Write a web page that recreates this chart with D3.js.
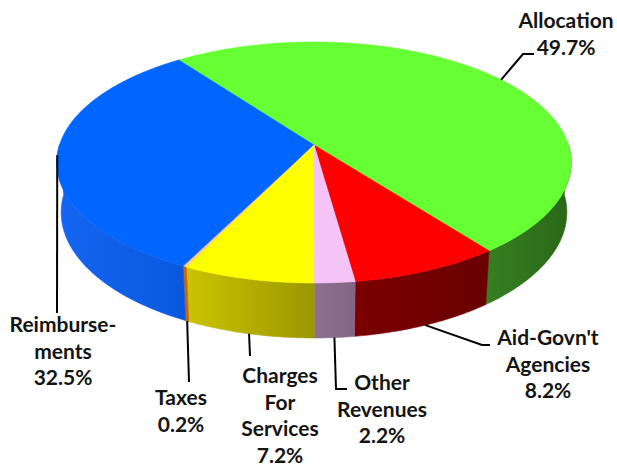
<!DOCTYPE html>
<html>
<head>
<meta charset="utf-8">
<script src="https://cdn.jsdelivr.net/npm/d3@7"></script>
<style>
  html, body { margin: 0; padding: 0; background: #ffffff; }
  svg { display: block; }
  text { font-family: Lato, "Open Sans", sans-serif; font-size: 21px; font-weight: bold; fill: #141414; }
</style>
</head>
<body>
<svg id="chart" width="617" height="468"></svg>
<script>
// Revenue sources, clockwise from the start angle
const categories = ["Allocation", "Aid-Govn't Agencies", "Other Revenues", "Charges For Services", "Taxes", "Reimbursements"];
const values = [49.7, 8.2, 2.2, 7.2, 0.2, 32.5];
const labelLines = [["Allocation"], ["Aid-Govn't", "Agencies"], ["Other", "Revenues"], ["Charges", "For", "Services"], ["Taxes"], ["Reimburse-", "ments"]];

// Colours: top face, and side wall gradient (left -> right)
const topColors = ["#66ff33", "#ff0000", "#f6c3f6", "#ffff00", "#f4a040", "#0066ff"];
const sideColors = [["#367f21", "#2a6717"], ["#7c0000", "#690000"], ["#8e6f8e", "#846584"],
                    ["#cbc400", "#9c9600"], ["#d06818", "#c06010"], ["#1465f2", "#0a58dc"]];

// Label layout: text centre, first baseline, leader anchor (top or bottom rim) and bend points
const labelLayout = [
  { x: 566, y: 28,  rim: "top",    bends: [[523, 54], [534, 54]] },
  { x: 548, y: 345, rim: "bottom", bends: [[482, 345], [490, 345]] },
  { x: 382, y: 390, rim: "bottom", bends: [[336, 389], [347, 389]] },
  { x: 280, y: 383, rim: "bottom", bends: [[250, 356]] },
  { x: 181, y: 405, rim: "bottom", bends: [[189, 382]] },
  { x: 63,  y: 332, rim: "top",    bends: [[57, 313]] }
];
const lineHeight = 26.5;

// Perspective camera for a unit disc of thickness H
const ox = 314, oy = 145;          // screen position of the disc centre
const elev = Math.asin(0.4635);
const S = Math.sin(elev), C = Math.cos(elev);
const D = 6.11, K = 1555, H = 0.223;

function proj(r, theta, z) {
  const x = r * Math.sin(theta), y = r * Math.cos(theta);
  const depth = D + y * C - z * S;
  return [ox + K * x / depth, oy - K * (y * S + z * C) / depth];
}

const svg = d3.select("#chart");
const defs = svg.append("defs");

const pie = d3.pie().sort(null).value(d => d)
  .startAngle(-0.6355).endAngle(-0.6355 + 2 * Math.PI);
const arcs = pie(values);

function rimPoints(a0, a1, z) {
  const n = Math.max(2, Math.ceil(Math.abs(a1 - a0) / 0.01));
  return d3.range(n + 1).map(i => proj(1, a0 + (a1 - a0) * i / n, z));
}

const line = d3.line();

// Side walls: only the part facing the viewer (front half)
const visLo = Math.PI / 2, visHi = 3 * Math.PI / 2;
const sideG = svg.append("g");
arcs.forEach((a, i) => {
  const s = a.startAngle, e = a.endAngle;
  const segs = [];
  for (const shift of [0, 2 * Math.PI, -2 * Math.PI]) {
    const lo = Math.max(s + shift, visLo), hi = Math.min(e + shift, visHi);
    if (hi > lo) segs.push([lo, hi]);
  }
  segs.forEach((sg, j) => {
    const top = rimPoints(sg[0], sg[1], 0);
    const bot = rimPoints(sg[1], sg[0], -H);
    const pts = top.concat(bot);
    const xs = pts.map(p => p[0]);
    const gid = `side-${i}-${j}`;
    const grad = defs.append("linearGradient").attr("id", gid)
      .attr("gradientUnits", "userSpaceOnUse")
      .attr("x1", d3.min(xs)).attr("x2", d3.max(xs)).attr("y1", 0).attr("y2", 0);
    grad.append("stop").attr("offset", 0).attr("stop-color", sideColors[i][0]);
    grad.append("stop").attr("offset", 1).attr("stop-color", sideColors[i][1]);
    sideG.append("path")
      .attr("d", line(pts) + "Z")
      .attr("fill", `url(#${gid})`)
      .attr("stroke", `url(#${gid})`).attr("stroke-width", 0.6);
  });
});

// Top faces; very thin slices are drawn last and without an outline
const topG = svg.append("g");
const order = d3.range(arcs.length).sort((p, q) => d3.descending(arcs[p].value, arcs[q].value));
order.forEach(i => {
  const a = arcs[i];
  const pts = [proj(0, 0, 0)].concat(rimPoints(a.startAngle, a.endAngle, 0));
  const thin = a.endAngle - a.startAngle < 0.02;
  topG.append("path")
    .attr("d", line(pts) + "Z")
    .attr("fill", topColors[i])
    .attr("fill-opacity", thin ? 0.55 : 1)
    .attr("stroke", thin ? "none" : topColors[i]).attr("stroke-width", 0.6)
    .attr("stroke-linejoin", "round");
});

// Leader lines and labels
const labelG = svg.append("g");
arcs.forEach((a, i) => {
  const L = labelLayout[i];
  const mid = (a.startAngle + a.endAngle) / 2;
  const start = proj(1, mid, L.rim === "top" ? 0 : -H);
  labelG.append("path")
    .attr("d", line([start].concat(L.bends)))
    .attr("fill", "none").attr("stroke", "#000").attr("stroke-width", 2);
  const lines = labelLines[i].concat([`${values[i]}%`]);
  const t = labelG.append("text").attr("text-anchor", "middle");
  lines.forEach((s, k) => {
    t.append("tspan").attr("x", L.x).attr("y", L.y + k * lineHeight).text(s);
  });
});
</script>
</body>
</html>
